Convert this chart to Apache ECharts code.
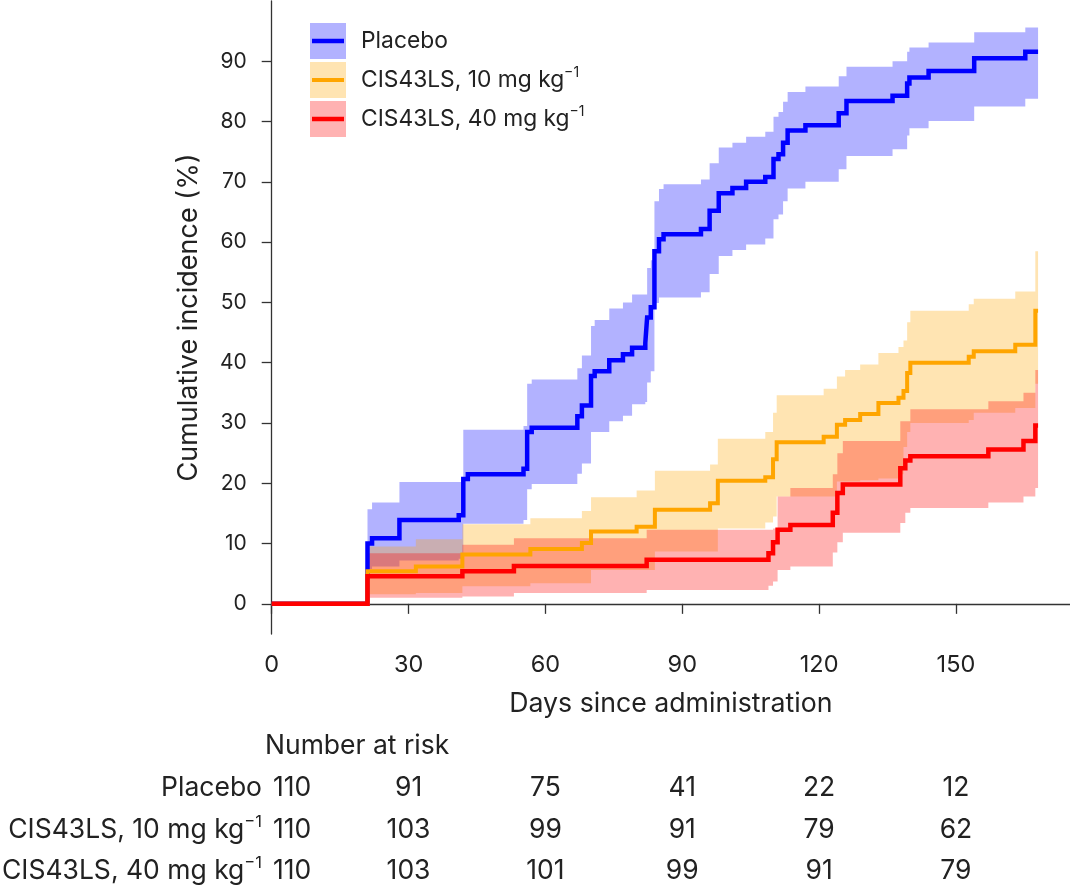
<!DOCTYPE html>
<html><head><meta charset="utf-8">
<script src="https://cdn.jsdelivr.net/npm/echarts@6/dist/echarts.min.js"></script>
<style>html,body{margin:0;padding:0;background:#fff}#c{width:1070px;height:887px}</style>
</head><body><div id="c"></div>
<script>
const FONT = 'Inter, "Noto Sans", sans-serif';
const TXT = '#222';
const xTicks = [0, 30, 60, 90, 120, 150];
const yTicks = [0, 10, 20, 30, 40, 50, 60, 70, 80, 90];
const groupNames = ['Placebo', 'CIS43LS, 10 mg kg', 'CIS43LS, 40 mg kg'];
const groupColors = ['#0000ff', '#ffa500', '#ff0000'];
const bandColors = ['rgba(0,0,255,0.3)', 'rgba(255,165,0,0.3)', 'rgba(255,0,0,0.3)'];

// Placebo
const placeboT   = [0,21,22,28,41,42,43,55.2,56,57,67,68,70,70.8,74,77,79,81.9,82.3,83.1,83.9,84.9,85.9,94.1,96,98,101,104,108.2,110,111.1,112.1,113.1,117,124.3,126,136.1,139.3,139.8,144,154,165.2,168];
const placeboEst = [0,10.0,10.9,13.9,14.7,20.7,21.5,22.4,28.5,29.2,31.1,32.9,37.8,38.6,40.4,41.4,42.5,43.3,47.5,49.2,58.5,60.5,61.3,62.2,65.2,68.1,69.0,70.0,70.8,73.8,74.6,76.5,78.5,79.4,81.4,83.4,84.3,86.3,87.3,88.4,90.5,91.6,91.6];
const placeboHi  = [null,15.7,16.8,20.2,20.2,28.9,28.9,29.5,36.5,37.2,39.1,41.2,46.1,47.1,49.0,50.0,51.3,51.3,55.7,57.0,66.8,68.8,69.6,70.4,73.1,75.7,76.5,77.5,78.3,80.8,81.6,83.3,84.9,85.8,87.5,89.1,90.0,91.6,92.3,93.1,94.8,95.6,95.6];
const placeboLo  = [null,5.8,6.2,7.2,7.5,13.3,13.3,13.9,19.0,19.9,21.6,23.3,28.5,28.5,30.3,31.2,33.1,33.5,36.7,38.6,49.9,50.8,50.8,51.7,54.7,57.7,58.7,59.6,60.6,63.8,64.6,66.8,68.9,70.0,72.1,74.3,75.4,77.7,78.9,80.1,82.5,83.8,83.8];

// CIS43LS 10 mg/kg
const dose10T   = [0,21,31.6,41.8,56.7,68,70,80,84,96.1,97.8,108.2,109.9,110.7,121,123.9,125.7,129,133,137.4,138.5,139.3,140,152.8,153.9,163,167.4,168];
const dose10Est = [0,5.4,6.2,8.2,9.1,10.1,12.0,12.8,15.6,16.7,20.4,21.0,24.0,26.8,27.7,29.7,30.5,31.5,33.3,34.2,35.3,38.3,40.0,41.0,41.9,43.0,48.6,48.6];
const dose10Hi  = [null,9.5,10.7,13.2,14.2,15.4,17.7,18.8,22.1,23.1,27.4,28.5,31.7,34.6,35.7,37.7,38.8,39.7,41.6,42.6,43.7,46.7,48.6,49.7,50.6,51.8,58.5,58.5];
const dose10Lo  = [null,1.6,1.8,2.9,3.4,3.4,5.6,5.6,8.7,8.7,12.5,13.5,14.5,17.8,17.8,20.3,20.3,20.5,20.8,21.5,26.0,28.5,30.0,30.5,31.7,32.5,36.5,36.5];

// CIS43LS 40 mg/kg
const dose40T   = [0,21,41.8,53.1,82.2,108.9,109.9,110.9,113.7,123,124,125.2,137.8,138.9,140,157.1,164.8,167.4,168];
const dose40Est = [0,4.6,5.4,6.3,7.3,8.4,10.2,12.3,13.1,15.1,18.4,19.8,22.5,23.8,24.5,25.6,27.0,29.6,29.6];
const dose40Hi  = [null,8.4,9.8,10.9,12.3,12.3,12.5,17.8,19.2,21.5,25.0,27.0,30.3,30.3,32.3,33.6,35.0,38.8,38.8];
const dose40Lo  = [null,1.0,1.2,1.8,2.3,3.0,3.7,5.6,6.2,8.5,10.2,11.8,13.4,15.1,15.9,16.8,17.8,19.2,19.2];

// Number at risk
const riskDays = [0, 30, 60, 90, 120, 150];
const riskPlacebo = [110, 91, 75, 41, 22, 12];
const risk10 = [110, 103, 99, 91, 79, 62];
const risk40 = [110, 103, 101, 99, 91, 79];

const groups = [
  {T: placeboT, E: placeboEst, L: placeboLo, H: placeboHi, w: 4.5},
  {T: dose10T, E: dose10Est, L: dose10Lo, H: dose10Hi, w: 4},
  {T: dose40T, E: dose40Est, L: dose40Lo, H: dose40Hi, w: 4.5}
];

function bandSeries(g, color, name) {
  return {
    type: 'custom', name: name + ' CI', silent: true, clip: true,
    data: [[g.T[0], 0]],
    renderItem: function (params, api) {
      const up = [], lo = [];
      for (let i = 0; i < g.T.length - 1; i++) {
        if (g.L[i] == null) continue;
        up.push(api.coord([g.T[i], g.H[i]]), api.coord([g.T[i + 1], g.H[i]]));
        lo.push(api.coord([g.T[i], g.L[i]]), api.coord([g.T[i + 1], g.L[i]]));
      }
      return {type: 'polygon', shape: {points: up.concat(lo.reverse())}, style: {fill: color}};
    }
  };
}
function lineSeries(g, color, name) {
  return {
    type: 'line', name: name, step: 'end', showSymbol: false, symbol: 'none', silent: true,
    data: g.T.map((t, i) => [t, g.E[i]]),
    lineStyle: {color: color, width: g.w, cap: 'butt', join: 'miter'}
  };
}

const series = [];
groups.forEach((g, k) => {
  series.push(bandSeries(g, bandColors[k], groupNames[k]));
  series.push(lineSeries(g, groupColors[k], groupNames[k]));
});

const axisColor = '#333';
const option = {
  animation: false,
  backgroundColor: '#fff',
  textStyle: {fontFamily: FONT},
  grid: {left: 271.7, right: 0, top: 1, bottom: 253},
  xAxis: {
    type: 'value', min: 0, max: 175, interval: 30,
    axisLine: {lineStyle: {color: axisColor, width: 1.3}},
    axisTick: {customValues: xTicks, length: 10, lineStyle: {color: axisColor, width: 1.3}},
    axisLabel: {customValues: xTicks, margin: 19, fontSize: 23.5, color: TXT, fontFamily: FONT},
    splitLine: {show: false},
    name: 'Days since administration', nameLocation: 'middle', nameGap: 56,
    nameTextStyle: {fontSize: 26.7, color: TXT, fontFamily: FONT}
  },
  yAxis: {
    type: 'value', min: -5, max: 100,
    axisLine: {show: true, lineStyle: {color: axisColor, width: 1.3}},
    axisTick: {show: true, customValues: yTicks, length: 10, lineStyle: {color: axisColor, width: 1.3}},
    axisLabel: {customValues: yTicks, margin: 25, fontSize: 21, color: TXT, fontFamily: FONT},
    splitLine: {show: false},
    name: 'Cumulative incidence (%)', nameLocation: 'middle', nameGap: 69,
    nameTextStyle: {fontSize: 27, color: TXT, fontFamily: FONT}
  },
  series: series
};

const chart = echarts.init(document.getElementById('c'));
chart.setOption(option);

const rich = {
  a: {fontSize: 22.8, fontFamily: FONT, fill: TXT, color: TXT, lineHeight: 28},
  s: {fontSize: 14, fontFamily: FONT, fill: TXT, color: TXT, lineHeight: 14, verticalAlign: 'top'}
};
function labelText(k) {
  return k === 0 ? '{a|' + groupNames[k] + '}' : '{a|' + groupNames[k] + '}{s|−1}';
}

const graphics = [];
const legendY = [41, 80, 119];
groups.forEach((g, k) => {
  graphics.push({type: 'rect', silent: true, shape: {x: 310, y: legendY[k] - 18, width: 36, height: 36}, style: {fill: bandColors[k]}});
  graphics.push({type: 'line', silent: true, shape: {x1: 312, y1: legendY[k], x2: 344, y2: legendY[k]}, style: {stroke: groupColors[k], lineWidth: g.w}});
  graphics.push({type: 'text', silent: true, x: 361, y: legendY[k], style: {text: labelText(k), rich: rich, verticalAlign: 'middle', align: 'left'}});
});

const tRich = {
  a: {fontSize: 26.5, fontFamily: FONT, fill: TXT, color: TXT, lineHeight: 32},
  s: {fontSize: 16.5, fontFamily: FONT, fill: TXT, color: TXT, lineHeight: 16, verticalAlign: 'top'}
};
graphics.push({type: 'text', silent: true, x: 265, y: 746, style: {text: 'Number at risk', font: '26.5px ' + FONT, fill: TXT, verticalAlign: 'middle', align: 'left'}});
const riskRows = [riskPlacebo, risk10, risk40];
const rowY = [788, 830, 871];
riskRows.forEach((row, r) => {
  const lbl = r === 0 ? '{a|' + groupNames[r] + '}' : '{a|' + groupNames[r] + '}{s|−1}';
  graphics.push({type: 'text', silent: true, x: 262, y: rowY[r], style: {text: lbl, rich: tRich, verticalAlign: 'middle', align: 'right'}});
  row.forEach((v, j) => {
    const px = chart.convertToPixel({xAxisIndex: 0}, riskDays[j]);
    graphics.push({type: 'text', silent: true, x: j === 0 ? 273 : px, y: rowY[r],
      style: {text: String(v), font: '26.5px ' + FONT, fill: TXT, verticalAlign: 'middle', align: j === 0 ? 'left' : 'center'}});
  });
});
chart.setOption({graphic: graphics});
</script></body></html>
